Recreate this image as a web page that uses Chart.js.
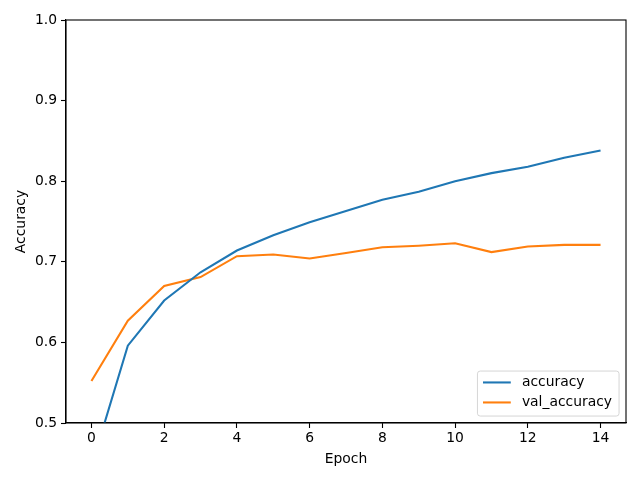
<!DOCTYPE html>
<html>
<head>
<meta charset="utf-8">
<script src="https://cdn.jsdelivr.net/npm/chart.js@4"></script>
<style>html,body{margin:0;padding:0;background:#fff;}canvas{display:block;}</style>
</head>
<body>
<canvas id="c" width="640" height="480"></canvas>
<script>
const epochs = [0,1,2,3,4,5,6,7,8,9,10,11,12,13,14];
const accuracy = [0.446,0.596,0.652,0.687,0.714,0.733,0.749,0.763,0.777,0.787,0.800,0.810,0.818,0.829,0.838];
const valAccuracy = [0.552,0.627,0.670,0.681,0.707,0.709,0.704,0.711,0.718,0.720,0.723,0.712,0.719,0.721,0.721];
const xTicks = [0,2,4,6,8,10,12,14];
const yTicks = [0.5,0.6,0.7,0.8,0.9,1.0];
const seriesNames = ['accuracy','val_accuracy'];

const FONT = 'DejaVu Sans';
const FS = 13.89;

const frame = {
  id: 'frame',
  afterDatasetsDraw(chart) {
    const {ctx, chartArea: a} = chart;
    ctx.save();
    ctx.strokeStyle = '#000';
    ctx.lineWidth = 1.1;
    ctx.strokeRect(a.left, a.top, a.right - a.left, a.bottom - a.top);
    // legend
    ctx.font = FS + 'px "' + FONT + '"';
    const ds = chart.data.datasets;
    let maxW = 0;
    ds.forEach(d => { maxW = Math.max(maxW, ctx.measureText(d.label).width); });
    const pad = 0.4*FS, hl = 2.0*FS, htp = 0.8*FS, rowStep = 20, firstOff = 11.4;
    const W = pad*2 + hl + htp + maxW + 1.5;
    const H = firstOff*2 + rowStep*(ds.length-1) + 2.2;
    const x1 = a.right - 0.5*FS, y1 = a.bottom - 0.5*FS;
    const x0 = x1 - W, y0 = y1 - H;
    const r = 0.2*FS;
    ctx.beginPath();
    ctx.moveTo(x0+r, y0);
    ctx.lineTo(x1-r, y0); ctx.arcTo(x1, y0, x1, y0+r, r);
    ctx.lineTo(x1, y1-r); ctx.arcTo(x1, y1, x1-r, y1, r);
    ctx.lineTo(x0+r, y1); ctx.arcTo(x0, y1, x0, y1-r, r);
    ctx.lineTo(x0, y0+r); ctx.arcTo(x0, y0, x0+r, y0, r);
    ctx.closePath();
    ctx.fillStyle = 'rgba(255,255,255,0.8)';
    ctx.fill();
    ctx.strokeStyle = 'rgba(204,204,204,0.8)';
    ctx.lineWidth = 1;
    ctx.stroke();
    ds.forEach((d, i) => {
      const cy = y0 + firstOff + i*rowStep;
      ctx.strokeStyle = d.borderColor;
      ctx.lineWidth = d.borderWidth;
      ctx.beginPath();
      ctx.moveTo(x0 + pad, cy);
      ctx.lineTo(x0 + pad + hl, cy);
      ctx.stroke();
      ctx.fillStyle = '#000';
      ctx.textAlign = 'left';
      ctx.textBaseline = 'middle';
      ctx.fillText(d.label, x0 + pad + hl + htp, cy);
    });
    ctx.restore();
  }
};

const axisCommon = {
  grid: { display: true, drawOnChartArea: false, drawTicks: true, tickLength: 5, tickColor: '#000', tickWidth: 1.1 },
  border: { display: true, color: '#000', width: 1.1 },
};

new Chart(document.getElementById('c'), {
  type: 'line',
  data: {
    datasets: [
      { label: seriesNames[0], data: epochs.map((e,i)=>({x:e,y:accuracy[i]})), borderColor: '#1f77b4', borderWidth: 2.08, pointRadius: 0, tension: 0, fill: false },
      { label: seriesNames[1], data: epochs.map((e,i)=>({x:e,y:valAccuracy[i]})), borderColor: '#ff7f0e', borderWidth: 2.08, pointRadius: 0, tension: 0, fill: false }
    ]
  },
  options: {
    responsive: false,
    animation: false,
    layout: { padding: { top: 20, right: 14, left: 0, bottom: 0 } },
    plugins: { legend: { display: false }, tooltip: { enabled: false } },
    scales: {
      x: {
        type: 'linear', min: -0.7, max: 14.7,
        ...axisCommon,
        afterBuildTicks: s => { s.ticks = xTicks.map(v => ({value: v})); },
        afterFit: s => { s.height = 57; },
        ticks: { color: '#000', padding: 2, maxRotation: 0, autoSkip: false, font: { family: FONT, size: FS }, callback: v => String(v) },
        title: { display: true, text: 'Epoch', color: '#000', font: { family: FONT, size: FS }, padding: { top: 12.5, bottom: 12.5 } }
      },
      y: {
        type: 'linear', min: 0.5, max: 1.0,
        ...axisCommon,
        afterBuildTicks: s => { s.ticks = yTicks.map(v => ({value: v})); },
        afterFit: s => { s.width = 66; },
        ticks: { color: '#000', padding: 4, autoSkip: false, font: { family: FONT, size: FS }, callback: v => Number(v).toFixed(1) },
        title: { display: true, text: 'Accuracy', color: '#000', font: { family: FONT, size: FS }, padding: { top: 13.5, bottom: 13.5 } }
      }
    }
  },
  plugins: [frame]
});
</script>
</body>
</html>
